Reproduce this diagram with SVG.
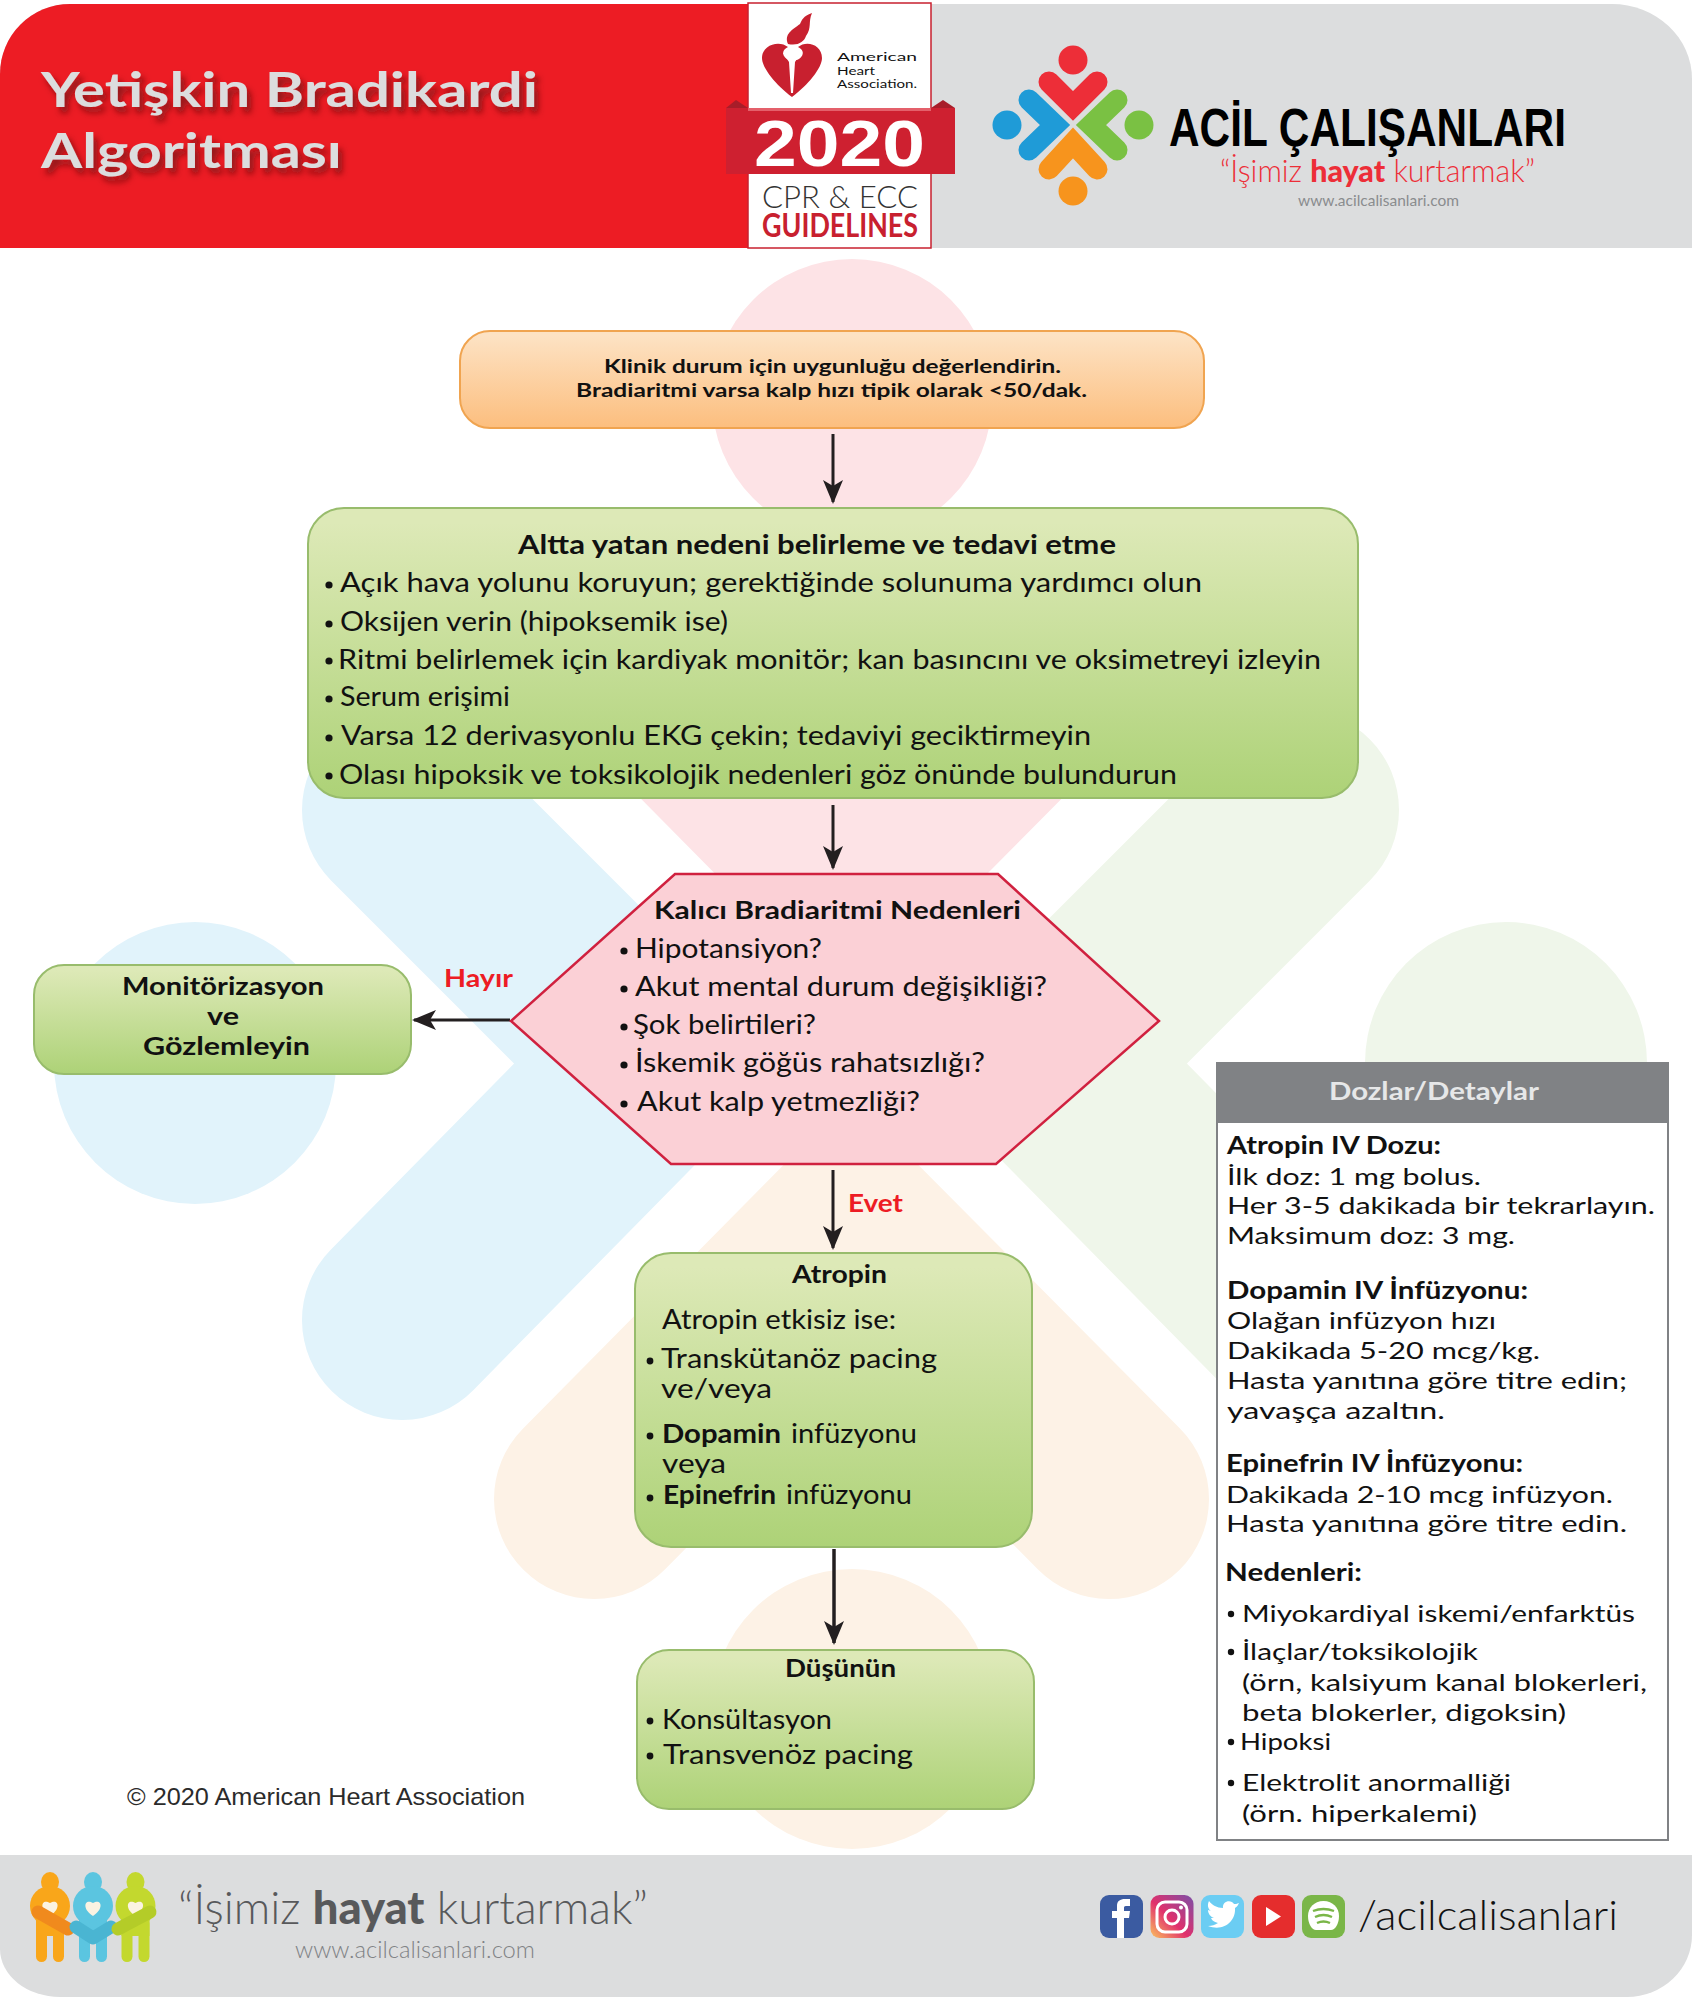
<svg xmlns="http://www.w3.org/2000/svg" xmlns:xlink="http://www.w3.org/1999/xlink" width="1702" height="2000" viewBox="0 0 1702 2000">
<style>
text{font-family:"Lato","Open Sans","Liberation Sans",sans-serif;fill:#111}
.b{font-weight:700}
.t{font-size:27px}
.d{font-size:24px}
.a{font-size:26px}
.h{font-size:25px;font-weight:700}
.red{fill:#ED1C24;font-size:25px;font-weight:700}
.bul{fill:#111}
.node{stroke-width:2}
.g{fill:url(#gr);stroke:#98BC6C}
.conn{stroke:#231F20;stroke-width:3;fill:none;marker-end:url(#ah)}
.cblue{stroke:#E1F3FB}.cgreen{stroke:#EFF6EA}.corange{stroke:#FDF2E6}.cpink{stroke:#FDE3E6}
.arm{fill:none;stroke-width:200;stroke-linecap:round;stroke-linejoin:miter}
.small{fill:none;stroke-width:21;stroke-linecap:round;stroke-linejoin:miter}
</style>
<defs>
<linearGradient id="gr" x1="0" y1="0" x2="0" y2="1"><stop offset="0.05" stop-color="#DDE9B7"/><stop offset="1" stop-color="#ADD277"/></linearGradient>
<linearGradient id="go" x1="0" y1="0" x2="0" y2="1"><stop offset="0.05" stop-color="#FDE2C3"/><stop offset="1" stop-color="#FCBE7E"/></linearGradient>
<linearGradient id="ig" x1="0" y1="1" x2="1" y2="0"><stop offset="0" stop-color="#FBC15E"/><stop offset="0.45" stop-color="#E1306C"/><stop offset="1" stop-color="#7B4FA8"/></linearGradient>
<marker id="ah" viewBox="0 0 24 20" refX="22" refY="10" markerWidth="24" markerHeight="20" markerUnits="userSpaceOnUse" orient="auto"><path d="M24,10 L0,0 L6,10 L0,20 Z" fill="#231F20"/></marker>
<filter id="sh" x="-10%" y="-30%" width="125%" height="170%"><feDropShadow dx="4" dy="6" stdDeviation="3" flood-color="#5A0A0E" flood-opacity="0.65"/></filter>
<g id="person">
<ellipse cx="0" cy="0" rx="9" ry="10" fill="currentColor"/>
<circle cx="0" cy="24" r="20" fill="currentColor"/>
<rect x="-14" y="30" width="28" height="24" fill="currentColor"/>
<rect x="-14" y="36" width="11" height="44" rx="5.5" fill="currentColor"/>
<rect x="3" y="36" width="11" height="44" rx="5.5" fill="currentColor"/>
<path d="M0,34 C-12,26 -8,16 0,21 C8,16 12,26 0,34 Z" fill="#FBF3E2"/>
</g>
</defs>

<g id="background">
<circle cx="852" cy="399" r="140" fill="#FDE3E6"/>
<circle cx="195" cy="1063" r="141" fill="#E1F3FB"/>
<circle cx="1506" cy="1063" r="141" fill="#EFF6EA"/>
<circle cx="852" cy="1709" r="140" fill="#FDF2E6"/>
<path class="arm cblue" d="M402,810 L655,1063 L402,1320"/>
<path class="arm cgreen" d="M1299,810 L1046,1063 L1299,1320"/>
<path class="arm corange" d="M594,1499 L851,1239 L1109,1499"/>
<path class="arm cpink" d="M594,609 L851,869 L1109,609"/>
</g>

<g id="header">
<path d="M0,248 V74 A70,70 0 0 1 70,4 H1612 A80,75 0 0 1 1692,79 V248 Z" fill="#DCDDDE"/>
<path d="M0,248 V74 A70,70 0 0 1 70,4 H750 V248 Z" fill="#ED1C24"/>
<g filter="url(#sh)">
<text x="41" y="107" font-size="47" class="b" style="fill:#DCDDDE" textLength="497" lengthAdjust="spacingAndGlyphs">Yetişkin Bradikardi</text>
<text x="41" y="168" font-size="47" class="b" style="fill:#DCDDDE" textLength="301" lengthAdjust="spacingAndGlyphs">Algoritması</text>
</g>
</g>

<g id="aha-logo">
<rect x="748" y="3" width="183" height="245" fill="#fff" stroke="#C8202F" stroke-width="1.5"/>
<path d="M748,108 L736,100 L726,108 Z M931,108 L943,100 L955,108 Z" fill="#A81D29"/>
<rect x="726" y="108" width="229" height="66" fill="#CE2030"/>
<rect x="748" y="108" width="183" height="3" fill="#E4606B"/>
<path d="M792,97 C776,85 762,68 762,58 C762,44 780,40 788,47 C778,52 786,60 790,60 H796 C800,60 808,52 798,47 C806,40 822,44 822,58 C822,68 808,85 792,97 Z" fill="#C8202F"/>
<path d="M783,53 H801 L795,62 L793,93 H791 L789,62 Z" fill="#fff"/>
<path d="M788,44 C784,34 792,30 800,24 C802,20 803,16 812,13 C808,22 812,28 806,36 C804,42 798,46 788,44 Z" fill="#C8202F"/>
<text x="837" y="61" font-size="12" textLength="80" lengthAdjust="spacingAndGlyphs">American</text>
<text x="837" y="75" font-size="12" textLength="38" lengthAdjust="spacingAndGlyphs">Heart</text>
<text x="837" y="88" font-size="12" textLength="80" lengthAdjust="spacingAndGlyphs">Association.</text>
<text x="754" y="166" font-size="64" style="font-family:'Liberation Sans',sans-serif;fill:#fff;font-weight:700" textLength="171" lengthAdjust="spacingAndGlyphs">2020</text>
<text x="762" y="208" font-size="32" style="font-weight:300;fill:#333" textLength="156" lengthAdjust="spacingAndGlyphs">CPR &amp; ECC</text>
<text x="762" y="237" font-size="32" style="font-weight:700;fill:#C8202F" textLength="156" lengthAdjust="spacingAndGlyphs">GUIDELINES</text>
</g>

<g id="ac-logo">
<circle cx="1073" cy="60" r="14.5" fill="#ED2E38"/>
<circle cx="1007" cy="125" r="14.5" fill="#1F9BD7"/>
<circle cx="1139" cy="125" r="14.5" fill="#7AC143"/>
<circle cx="1073" cy="191" r="14.5" fill="#F7941D"/>
<path class="small" style="stroke:#1F9BD7" d="M1029,100 L1055,125 L1029,150"/>
<path class="small" style="stroke:#7AC143" d="M1117,100 L1091,125 L1117,150"/>
<path class="small" style="stroke:#F7941D" d="M1049,169 L1073,143 L1097,169"/>
<path class="small" style="stroke:#ED2E38" d="M1049,82 L1073,106 L1097,82"/>
<text x="1169" y="146" font-size="54" style="font-family:'Liberation Sans',sans-serif;font-weight:700;fill:#000" textLength="397" lengthAdjust="spacingAndGlyphs">ACİL ÇALIŞANLARI</text>
<text x="1220" y="182" font-size="31" style="fill:#ED2E38;font-weight:300" textLength="315" lengthAdjust="spacingAndGlyphs">“İşimiz <tspan font-weight="900">hayat</tspan> kurtarmak”</text>
<text x="1298" y="206" font-size="16" style="fill:#8A8C8E" textLength="161" lengthAdjust="spacingAndGlyphs">www.acilcalisanlari.com</text>
</g>

<g id="connectors">
<line class="conn" x1="833" y1="434" x2="833" y2="502"/>
<line class="conn" x1="833" y1="805" x2="833" y2="868"/>
<line class="conn" x1="510" y1="1020" x2="414" y2="1020"/>
<line class="conn" x1="833" y1="1170" x2="833" y2="1248"/>
<line class="conn" style="stroke-width:3.5" x1="834" y1="1549" x2="834" y2="1643"/>
</g>

<g id="node-start">
<rect class="node" x="460" y="331" width="744" height="97" rx="30" fill="url(#go)" stroke="#F0A450"/>
<text class="b" x="604" y="373" font-size="19" textLength="457" lengthAdjust="spacingAndGlyphs">Klinik durum için uygunluğu değerlendirin.</text>
<text class="b" x="576" y="397" font-size="19" textLength="511" lengthAdjust="spacingAndGlyphs">Bradiaritmi varsa kalp hızı tipik olarak &lt;50/dak.</text>
</g>

<g id="node-underlying">
<rect class="node g" x="308" y="508" width="1050" height="290" rx="36"/>
<text class="b" x="518" y="554" font-size="26" textLength="598" lengthAdjust="spacingAndGlyphs">Altta yatan nedeni belirleme ve tedavi etme</text>
<circle class="bul" cx="329" cy="585" r="3.6"/><text class="t" x="340" y="592" textLength="862" lengthAdjust="spacingAndGlyphs">Açık hava yolunu koruyun; gerektiğinde solunuma yardımcı olun</text>
<circle class="bul" cx="329" cy="624" r="3.6"/><text class="t" x="340" y="631" textLength="388" lengthAdjust="spacingAndGlyphs">Oksijen verin (hipoksemik ise)</text>
<circle class="bul" cx="329" cy="661" r="3.6"/><text class="t" x="338" y="669" textLength="983" lengthAdjust="spacingAndGlyphs">Ritmi belirlemek için kardiyak monitör; kan basıncını ve oksimetreyi izleyin</text>
<circle class="bul" cx="329" cy="699" r="3.6"/><text class="t" x="340" y="706" textLength="170" lengthAdjust="spacingAndGlyphs">Serum erişimi</text>
<circle class="bul" cx="329" cy="738" r="3.6"/><text class="t" x="341" y="745" textLength="750" lengthAdjust="spacingAndGlyphs">Varsa 12 derivasyonlu EKG çekin; tedaviyi geciktirmeyin</text>
<circle class="bul" cx="329" cy="776" r="3.6"/><text class="t" x="339" y="784" textLength="838" lengthAdjust="spacingAndGlyphs">Olası hipoksik ve toksikolojik nedenleri göz önünde bulundurun</text>
</g>

<g id="node-persistent">
<polygon points="675,874 998,874 1159,1021 996,1164 671,1164 511,1021" fill="#FBD0D6" stroke="#D0213F" stroke-width="2.5"/>
<text class="b" x="654" y="919" font-size="25" textLength="367" lengthAdjust="spacingAndGlyphs">Kalıcı Bradiaritmi Nedenleri</text>
<circle class="bul" cx="624" cy="951" r="3.6"/><text class="t" x="635" y="958" textLength="187" lengthAdjust="spacingAndGlyphs">Hipotansiyon?</text>
<circle class="bul" cx="624" cy="989" r="3.6"/><text class="t" x="635" y="996" textLength="412" lengthAdjust="spacingAndGlyphs">Akut mental durum değişikliği?</text>
<circle class="bul" cx="624" cy="1027" r="3.6"/><text class="t" x="633" y="1034" textLength="183" lengthAdjust="spacingAndGlyphs">Şok belirtileri?</text>
<circle class="bul" cx="624" cy="1065" r="3.6"/><text class="t" x="635" y="1072" textLength="350" lengthAdjust="spacingAndGlyphs">İskemik göğüs rahatsızlığı?</text>
<circle class="bul" cx="624" cy="1104" r="3.6"/><text class="t" x="637" y="1111" textLength="283" lengthAdjust="spacingAndGlyphs">Akut kalp yetmezliği?</text>
</g>

<g id="node-monitor">
<rect class="node g" x="34" y="965" width="377" height="109" rx="30"/>
<text class="h" x="122" y="995" textLength="202" lengthAdjust="spacingAndGlyphs">Monitörizasyon</text>
<text class="h" x="207" y="1025" textLength="32" lengthAdjust="spacingAndGlyphs">ve</text>
<text class="h" x="143" y="1055" textLength="167" lengthAdjust="spacingAndGlyphs">Gözlemleyin</text>
</g>
<text id="label-hayir" class="red" x="444" y="987" textLength="69" lengthAdjust="spacingAndGlyphs">Hayır</text>
<text id="label-evet" class="red" x="848" y="1212" textLength="55" lengthAdjust="spacingAndGlyphs">Evet</text>

<g id="node-atropin">
<rect class="node g" x="635" y="1253" width="397" height="294" rx="36"/>
<text class="h" x="792" y="1283" textLength="95" lengthAdjust="spacingAndGlyphs">Atropin</text>
<text class="a" x="662" y="1329" textLength="234" lengthAdjust="spacingAndGlyphs">Atropin etkisiz ise:</text>
<circle class="bul" cx="650" cy="1361" r="3.4"/><text class="a" x="661" y="1368" textLength="276" lengthAdjust="spacingAndGlyphs">Transkütanöz pacing</text>
<text class="a" x="661" y="1398" textLength="111" lengthAdjust="spacingAndGlyphs">ve/veya</text>
<circle class="bul" cx="650" cy="1436" r="3.4"/><text class="a b" x="662" y="1443" textLength="119" lengthAdjust="spacingAndGlyphs">Dopamin</text><text class="a" x="791" y="1443" textLength="126" lengthAdjust="spacingAndGlyphs">infüzyonu</text>
<text class="a" x="662" y="1473" textLength="64" lengthAdjust="spacingAndGlyphs">veya</text>
<circle class="bul" cx="650" cy="1498" r="3.4"/><text class="a b" x="663" y="1504" textLength="113" lengthAdjust="spacingAndGlyphs">Epinefrin</text><text class="a" x="786" y="1504" textLength="126" lengthAdjust="spacingAndGlyphs">infüzyonu</text>
</g>

<g id="node-consider">
<rect class="node g" x="637" y="1650" width="397" height="159" rx="32"/>
<text class="h" x="785" y="1677" textLength="111" lengthAdjust="spacingAndGlyphs">Düşünün</text>
<circle class="bul" cx="650" cy="1721" r="3.4"/><text class="a" x="662" y="1729" textLength="170" lengthAdjust="spacingAndGlyphs">Konsültasyon</text>
<circle class="bul" cx="650" cy="1756" r="3.4"/><text class="a" x="663" y="1764" textLength="250" lengthAdjust="spacingAndGlyphs">Transvenöz pacing</text>
</g>

<text id="copyright" x="127" y="1805" font-size="24" style="fill:#2b2b2b;font-family:'Liberation Sans',sans-serif" textLength="398" lengthAdjust="spacingAndGlyphs">© 2020 American Heart Association</text>

<g id="node-details">
<rect x="1217" y="1063" width="451" height="777" fill="#fff" stroke="#808285" stroke-width="2"/>
<rect x="1217" y="1063" width="451" height="60" fill="#808285"/>
<text x="1329" y="1100" font-size="25" class="b" style="fill:#E6E7E8" textLength="210" lengthAdjust="spacingAndGlyphs">Dozlar/Detaylar</text>
<text class="d b" x="1227" y="1154" textLength="214" lengthAdjust="spacingAndGlyphs">Atropin IV Dozu:</text>
<text class="d" x="1227" y="1185" textLength="254" lengthAdjust="spacingAndGlyphs">İlk doz: 1 mg bolus.</text>
<text class="d" x="1227" y="1214" textLength="428" lengthAdjust="spacingAndGlyphs">Her 3-5 dakikada bir tekrarlayın.</text>
<text class="d" x="1227" y="1244" textLength="288" lengthAdjust="spacingAndGlyphs">Maksimum doz: 3 mg.</text>
<text class="d b" x="1227" y="1299" textLength="301" lengthAdjust="spacingAndGlyphs">Dopamin IV İnfüzyonu:</text>
<text class="d" x="1227" y="1329" textLength="269" lengthAdjust="spacingAndGlyphs">Olağan infüzyon hızı</text>
<text class="d" x="1227" y="1359" textLength="313" lengthAdjust="spacingAndGlyphs">Dakikada 5-20 mcg/kg.</text>
<text class="d" x="1227" y="1389" textLength="400" lengthAdjust="spacingAndGlyphs">Hasta yanıtına göre titre edin;</text>
<text class="d" x="1227" y="1419" textLength="218" lengthAdjust="spacingAndGlyphs">yavaşça azaltın.</text>
<text class="d b" x="1226" y="1472" textLength="297" lengthAdjust="spacingAndGlyphs">Epinefrin IV İnfüzyonu:</text>
<text class="d" x="1226" y="1503" textLength="387" lengthAdjust="spacingAndGlyphs">Dakikada 2-10 mcg infüzyon.</text>
<text class="d" x="1226" y="1532" textLength="401" lengthAdjust="spacingAndGlyphs">Hasta yanıtına göre titre edin.</text>
<text class="d b" x="1225" y="1581" textLength="137" lengthAdjust="spacingAndGlyphs">Nedenleri:</text>
<circle class="bul" cx="1231" cy="1614" r="3.2"/><text class="d" x="1242" y="1622" textLength="393" lengthAdjust="spacingAndGlyphs">Miyokardiyal iskemi/enfarktüs</text>
<circle class="bul" cx="1231" cy="1652" r="3.2"/><text class="d" x="1242" y="1660" textLength="236" lengthAdjust="spacingAndGlyphs">İlaçlar/toksikolojik</text>
<text class="d" x="1242" y="1691" textLength="405" lengthAdjust="spacingAndGlyphs">(örn, kalsiyum kanal blokerleri,</text>
<text class="d" x="1242" y="1721" textLength="324" lengthAdjust="spacingAndGlyphs">beta blokerler, digoksin)</text>
<circle class="bul" cx="1231" cy="1742" r="3.2"/><text class="d" x="1240" y="1750" textLength="91" lengthAdjust="spacingAndGlyphs">Hipoksi</text>
<circle class="bul" cx="1231" cy="1783" r="3.2"/><text class="d" x="1242" y="1791" textLength="269" lengthAdjust="spacingAndGlyphs">Elektrolit anormalliği</text>
<text class="d" x="1242" y="1822" textLength="235" lengthAdjust="spacingAndGlyphs">(örn. hiperkalemi)</text>
</g>

<g id="footer">
<path d="M0,1855 H1692 V1935 A65,62 0 0 1 1627,1997 H60 A60,48 0 0 1 0,1949 Z" fill="#DCDDDE"/>
<use xlink:href="#person" href="#person" transform="translate(50,1882)" style="color:#F9A61A"/>
<use xlink:href="#person" href="#person" transform="translate(93,1882)" style="color:#5BC5E0"/>
<use xlink:href="#person" href="#person" transform="translate(135.5,1882)" style="color:#C3D82E"/>
<path d="M38,1912 L68,1929" stroke="#F08A1D" stroke-width="13" stroke-linecap="round" fill="none"/>
<path d="M76,1927 L93,1938 L111,1927" stroke="#4AB5D2" stroke-width="13" stroke-linecap="round" stroke-linejoin="round" fill="none"/>
<path d="M118,1929 L150,1912" stroke="#B4CC28" stroke-width="13" stroke-linecap="round" fill="none"/>
<text x="178" y="1924" font-size="46" style="fill:#58595B;font-weight:300" textLength="470" lengthAdjust="spacingAndGlyphs">“İşimiz <tspan font-weight="900">hayat</tspan> kurtarmak”</text>
<text x="295" y="1958" font-size="24" style="fill:#808285;font-weight:300" textLength="240" lengthAdjust="spacingAndGlyphs">www.acilcalisanlari.com</text>
<rect x="1100" y="1895" width="43" height="43" rx="9" fill="#3B5BA1"/>
<path d="M1117,1938 V1918 H1112 V1911 H1117 V1906 C1117,1901 1120,1899 1125,1899 H1130 V1906 H1126 C1124,1906 1124,1907 1124,1908 V1911 H1130 L1129,1918 H1124 V1938 Z" fill="#fff"/>
<rect x="1150.5" y="1895" width="43" height="43" rx="9" fill="url(#ig)"/>
<rect x="1157" y="1902" width="30" height="30" rx="8" fill="none" stroke="#fff" stroke-width="3"/>
<circle cx="1172" cy="1917" r="7" fill="none" stroke="#fff" stroke-width="3"/>
<circle cx="1181" cy="1907.5" r="2" fill="#fff"/>
<rect x="1201" y="1895" width="43" height="43" rx="9" fill="#6BCDF3"/>
<path d="M1208,1926 C1224,1932 1236,1921 1235,1908 C1237,1907 1238,1905 1239,1903 C1237,1904 1235,1904 1234,1904 C1231,1899 1222,1901 1223,1908 C1217,1908 1212,1905 1209,1901 C1207,1905 1208,1909 1211,1911 L1208,1910 C1208,1914 1211,1917 1214,1918 L1211,1918 C1212,1921 1215,1922 1218,1923 C1215,1925 1212,1926 1208,1926 Z" fill="#fff"/>
<rect x="1252" y="1895" width="43" height="43" rx="9" fill="#E52D2D"/>
<path d="M1266,1907 L1281,1916.5 L1266,1926 Z" fill="#fff"/>
<rect x="1302" y="1895" width="43" height="43" rx="9" fill="#7AB648"/>
<path d="M1323.5,1901 C1333,1901 1339,1908 1339,1916 C1339,1924 1335,1930 1331,1930 H1316 C1312,1930 1308,1924 1308,1916 C1308,1908 1314,1901 1323.5,1901 Z" fill="#fff"/>
<path d="M1313,1911 Q1323.5,1907 1334,1911 M1315,1917 Q1323.5,1913 1332,1917 M1317,1923 Q1323.5,1920 1330,1923" fill="none" stroke="#7AB648" stroke-width="2.4"/>
<text x="1358" y="1930" font-size="42" style="font-weight:300;fill:#111" textLength="260" lengthAdjust="spacingAndGlyphs">/acilcalisanlari</text>
</g>
</svg>
